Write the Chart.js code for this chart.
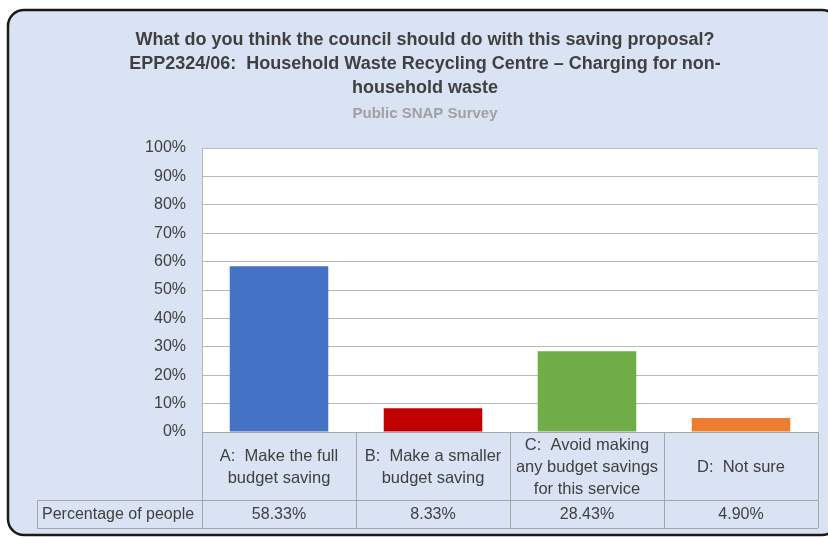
<!DOCTYPE html>
<html><head><meta charset="utf-8">
<script src="https://cdn.jsdelivr.net/npm/chart.js@4"></script>
<style>html,body{margin:0;padding:0;background:#fff}#wrap{width:828px;height:538px}</style>
</head><body><div id="wrap"><canvas id="c" width="828" height="538"></canvas></div>
<script>
const titleLines = ["What do you think the council should do with this saving proposal?", "EPP2324/06:  Household Waste Recycling Centre \u2013 Charging for non-", "household waste"];
const subtitleText = "Public SNAP Survey";
const categories = [["A:  Make the full","budget saving"],["B:  Make a smaller","budget saving"],["C:  Avoid making","any budget savings","for this service"],["D:  Not sure"]];
const seriesName = "Percentage of people";
const values = [58.33, 8.33, 28.43, 4.90];
const valueLabels = ["58.33%","8.33%","28.43%","4.90%"];
const barColors = ["#4472c4","#c00000","#70ad47","#ed7d31"];
const yTicks = [0,10,20,30,40,50,60,70,80,90,100];

const FONT = "'Liberation Sans',Arial,sans-serif";
const TEXT = "#404040";
const LINE = "#a6a6a6";

const decor = {
  id:'decor',
  beforeDraw(chart){
    const ctx = chart.ctx;
    ctx.save();
    const x=8,y=10,w=830,h=525,r=16;
    ctx.beginPath();
    ctx.moveTo(x+r,y);ctx.lineTo(x+w-r,y);ctx.arcTo(x+w,y,x+w,y+r,r);
    ctx.lineTo(x+w,y+h-r);ctx.arcTo(x+w,y+h,x+w-r,y+h,r);
    ctx.lineTo(x+r,y+h);ctx.arcTo(x,y+h,x,y+h-r,r);
    ctx.lineTo(x,y+r);ctx.arcTo(x,y,x+r,y,r);ctx.closePath();
    ctx.fillStyle="#dae3f3";ctx.fill();
    ctx.lineWidth=2.5;ctx.strokeStyle="#1a1a1a";ctx.stroke();
    const a=chart.chartArea;
    ctx.fillStyle="#ffffff";
    ctx.fillRect(a.left,a.top,a.right-a.left,a.bottom-a.top);
    ctx.textAlign="center";ctx.textBaseline="middle";
    ctx.fillStyle=TEXT;
    ctx.font="bold 18px "+FONT;
    titleLines.forEach((t,i)=>ctx.fillText(t,425,40+i*24));
    ctx.fillStyle="#a0a0a0";
    ctx.font="bold 15px "+FONT;
    ctx.fillText(subtitleText,425,114);
    ctx.restore();
  },
  afterDraw(chart){
    const ctx=chart.ctx, a=chart.chartArea, xs=chart.scales.x;
    const n=categories.length;
    const half=(xs.getPixelForValue(1)-xs.getPixelForValue(0))/2;
    const bounds=[];
    for(let i=0;i<n;i++) bounds.push(xs.getPixelForValue(i)-half);
    bounds.push(xs.getPixelForValue(n-1)+half);
    const rowTop=a.bottom, rowMid=500, rowBot=528, leftX=37;
    ctx.save();
    ctx.strokeStyle=LINE;ctx.lineWidth=1;
    ctx.beginPath();
    ctx.moveTo(bounds[0],rowTop+0.5);ctx.lineTo(bounds[n],rowTop+0.5);
    ctx.moveTo(leftX,rowMid+0.5);ctx.lineTo(bounds[n],rowMid+0.5);
    ctx.moveTo(leftX,rowBot+0.5);ctx.lineTo(bounds[n],rowBot+0.5);
    bounds.forEach(b=>{ctx.moveTo(Math.round(b)+0.5,rowTop);ctx.lineTo(Math.round(b)+0.5,rowBot);});
    ctx.moveTo(leftX+0.5,rowMid);ctx.lineTo(leftX+0.5,rowBot);
    ctx.stroke();
    ctx.fillStyle=TEXT;ctx.textBaseline="middle";ctx.textAlign="center";
    categories.forEach((lab,i)=>{
      const cx=xs.getPixelForValue(i);
      const lh=22, cy=(rowTop+rowMid)/2+1;
      ctx.font="16.5px "+FONT;
      lab.forEach((l,j)=>ctx.fillText(l,cx,cy+(j-(lab.length-1)/2)*lh));
      ctx.font="16px "+FONT;
      ctx.fillText(valueLabels[i],cx,(rowMid+rowBot)/2+1);
    });
    ctx.textAlign="left";
    ctx.font="16px "+FONT;
    ctx.fillText(seriesName,leftX+5,(rowMid+rowBot)/2+1);
    ctx.restore();
  }
};

new Chart(document.getElementById('c'),{
  type:'bar',
  data:{labels:categories.map(c=>c.join(' ')),datasets:[{label:seriesName,data:values,backgroundColor:barColors,borderWidth:0,barPercentage:0.64,categoryPercentage:1}]},
  options:{
    responsive:false,animation:false,devicePixelRatio:1,
    layout:{padding:{left:0,top:148,right:10,bottom:10}},
    plugins:{legend:{display:false},tooltip:{enabled:false},title:{display:false}},
    scales:{
      x:{grid:{display:false,drawTicks:false},border:{display:false},ticks:{display:false},
         afterFit(s){s.height=96;}},
      y:{min:0,max:100,afterBuildTicks(s){s.ticks=yTicks.map(v=>({value:v}));},
         afterFit(s){s.width=202;},
         grid:{color:"#b8b8b8",drawTicks:false,lineWidth:1},
         border:{display:true,color:"#b8b8b8"},
         ticks:{padding:16,color:TEXT,font:{family:FONT,size:16},callback:v=>v+'%'}}
    }
  },
  plugins:[decor]
});
</script></body></html>
